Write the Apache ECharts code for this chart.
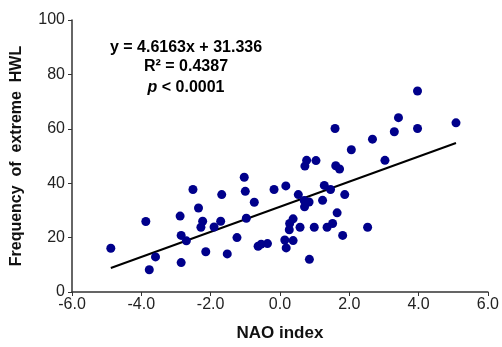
<!DOCTYPE html>
<html>
<head>
<meta charset="utf-8">
<script src="https://cdn.jsdelivr.net/npm/echarts@6/dist/echarts.min.js"></script>
<style>html,body{margin:0;padding:0;background:#fff}#c{width:502px;height:347px}</style>
</head>
<body>
<div id="c"></div>
<script>
const naoIndex = [-4.88,-3.87,-3.77,-3.59,-2.88,-2.85,-2.85,-2.70,-2.51,-2.35,-2.23,-2.28,-2.14,-1.90,-1.71,-1.68,-1.52,-1.24,-1.03,-1.00,-0.97,-0.74,-0.63,-0.54,-0.36,-0.17,0.17,0.53,0.70,0.84,0.71,0.28,0.38,0.27,0.58,0.99,0.14,0.38,0.18,0.85,0.77,1.04,0.72,1.61,1.72,3.03,1.59,2.67,2.06,3.42,3.30,3.97,3.97,5.08,1.28,1.46,1.23,1.87,1.65,1.52,1.36,1.81,2.53];
const hwlFrequency = [16.1,25.9,8.2,12.9,27.9,20.8,10.8,18.8,37.7,30.9,26.0,23.8,14.8,23.9,26.0,35.8,14.0,20.0,42.2,37.0,27.1,33.0,16.8,17.6,17.8,37.7,39.0,35.8,33.6,33.1,31.3,25.2,26.9,22.9,23.8,23.8,19.1,18.9,16.2,12.0,48.4,48.3,46.3,46.4,45.2,48.4,60.1,56.2,52.3,64.1,58.9,73.9,60.1,62.2,39.2,37.7,33.7,35.8,29.1,25.2,23.8,20.8,23.8];
const slope = 4.6163, intercept = 31.336;
const xTicks = [-6,-4,-2,0,2,4,6];
const yTicks = [0,20,40,60,80,100];

const points = naoIndex.map((x,i)=>[x,hwlFrequency[i]]);
const xMin = Math.min(...naoIndex), xMax = Math.max(...naoIndex);
const fitLine = [[xMin, slope*xMin+intercept],[xMax, slope*xMax+intercept]];

const chart = echarts.init(document.getElementById('c'), null, {renderer:'canvas'});
const font = 'Liberation Sans, Arial, sans-serif';
chart.setOption({
  animation:false,
  grid:{left:72,right:8,top:20,bottom:53.5},
  xAxis:{type:'value',min:xTicks[0],max:xTicks[xTicks.length-1],interval:2,
    name:'NAO index',nameLocation:'middle',nameGap:33,
    nameTextStyle:{fontFamily:font,fontWeight:'bold',fontSize:17,color:'#111'},
    axisLine:{onZero:false,lineStyle:{color:'#333',width:1.5}},
    axisTick:{show:true,length:4,lineStyle:{color:'#333'}},
    splitLine:{show:false},
    axisLabel:{margin:5,fontFamily:font,fontSize:16,color:'#222',formatter:v=>v.toFixed(1)}},
  yAxis:{type:'value',min:yTicks[0],max:yTicks[yTicks.length-1],interval:20,
    name:'Frequency  of  extreme  HWL',nameLocation:'middle',nameGap:47,
    nameTextStyle:{fontFamily:font,fontWeight:'bold',fontSize:16,color:'#111'},
    axisLine:{show:true,onZero:false,lineStyle:{color:'#333',width:1.5}},
    axisTick:{show:true,length:4,lineStyle:{color:'#333'}},
    splitLine:{show:false},
    axisLabel:{margin:7,fontFamily:font,fontSize:16,color:'#222'}},
  graphic:[
    {type:'text',style:{text:'y = 4.6163x + 31.336',x:186,y:48,align:'center',verticalAlign:'middle',font:'bold 16px '+font,fill:'#000'}},
    {type:'text',style:{text:'R² = 0.4387',x:186,y:67,align:'center',verticalAlign:'middle',font:'bold 16px '+font,fill:'#000'}},
    {type:'text',style:{text:'{i|p} < 0.0001',x:186,y:88,align:'center',verticalAlign:'middle',font:'bold 16px '+font,fill:'#000',
      rich:{i:{fontStyle:'italic',fontWeight:'bold',fontSize:16,fontFamily:font}}}}
  ],
  series:[
    {type:'scatter',data:points,symbolSize:9,itemStyle:{color:'#00008b',opacity:1},z:3},
    {type:'line',data:fitLine,symbol:'none',lineStyle:{color:'#000',width:2},z:2}
  ]
});
</script>
</body>
</html>
